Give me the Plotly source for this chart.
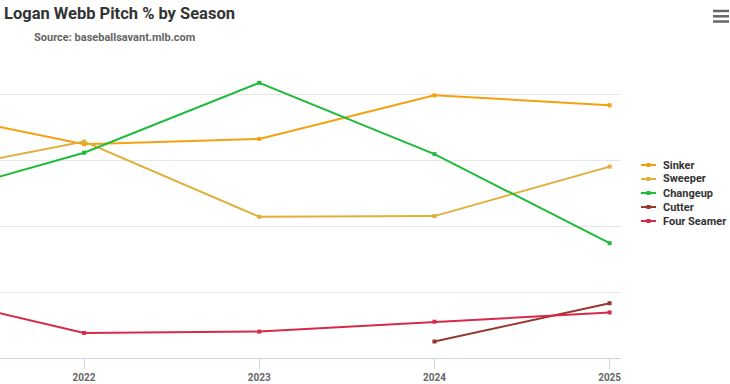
import plotly.graph_objects as go

seasons = [2021, 2022, 2023, 2024, 2025]
sinker = [37.8, 32.4, 33.2, 39.8, 38.3]
sweeper = [27.6, 32.8, 21.4, 21.5, 29.0]
changeup = [23.6, 31.1, 41.7, 30.9, 17.4]
cutter_seasons = [2024, 2025]
cutter = [2.5, 8.3]
four_seamer = [10.0, 3.8, 4.0, 5.5, 6.9]
tick_years = [2022, 2023, 2024, 2025]

series = [
    ("Sinker", seasons, sinker, "#f7a00f"),
    ("Sweeper", seasons, sweeper, "#e0b03c"),
    ("Changeup", seasons, changeup, "#20bb3a"),
    ("Cutter", cutter_seasons, cutter, "#953a2a"),
    ("Four Seamer", seasons, four_seamer, "#d62a48"),
]

FONT = "Roboto, sans-serif"
W, H = 730, 384
PL, PR, PT, PB = 0, 621, 50, 358  # plot area in pixels
PW, PH = PR - PL, PB - PT


def px(x):
    return (x - PL) / PW


def py(y):
    return (PB - y) / PH


fig = go.Figure()
for name, xs, ys, color in series:
    fig.add_trace(go.Scatter(
        x=xs, y=ys, name=name, mode="lines+markers",
        line=dict(color=color, width=2),
        marker=dict(color=color, size=4, symbol="square"),
        showlegend=False,
    ))

fig.update_layout(
    width=W, height=H,
    margin=dict(l=PL, r=W - PR, t=PT, b=H - PB, autoexpand=False),
    paper_bgcolor="white", plot_bgcolor="white",
    xaxis=dict(range=[2021.52, 2025.065], tickvals=tick_years, ticktext=[str(t) for t in tick_years],
               showgrid=False, showline=True, linecolor="#ccd6eb", linewidth=1,
               ticks="outside", ticklen=10, tickcolor="#ccd6eb",
               tickfont=dict(family=FONT, size=10, color="#666666", weight="bold"), zeroline=False),
    yaxis=dict(range=[0, 46.67], dtick=10, showgrid=True, gridcolor="#e6e6e6",
               showticklabels=False, zeroline=False, fixedrange=True),
    showlegend=False,
)

# title and subtitle
fig.add_annotation(text="<b>Logan Webb Pitch % by Season</b>", xref="paper", yref="paper",
                   x=px(2), y=py(13), xanchor="left", yanchor="middle", showarrow=False,
                   font=dict(family=FONT, size=16.5, color="#333333"))
fig.add_annotation(text="<b>Source: baseballsavant.mlb.com</b>", xref="paper", yref="paper",
                   x=px(114), y=py(37), xanchor="center", yanchor="middle", showarrow=False,
                   font=dict(family=FONT, size=11, color="#666666"))

# custom legend
for i, (name, xs, ys, color) in enumerate(series):
    yy = 165 + 14 * i
    fig.add_shape(type="line", xref="paper", yref="paper",
                  x0=px(641), x1=px(656), y0=py(yy), y1=py(yy),
                  line=dict(color=color, width=2))
    fig.add_shape(type="rect", xref="paper", yref="paper",
                  x0=px(646.5), x1=px(650.5), y0=py(yy - 2), y1=py(yy + 2),
                  line=dict(width=0), fillcolor=color)
    fig.add_annotation(text="<b>" + name + "</b>", xref="paper", yref="paper",
                       x=px(661), y=py(yy), xanchor="left", yanchor="middle", showarrow=False,
                       font=dict(family=FONT, size=11, color="#333333"))

# menu icon
for yy in (11, 16.3, 21.5):
    fig.add_shape(type="line", xref="paper", yref="paper",
                  x0=px(713), x1=px(729), y0=py(yy), y1=py(yy),
                  line=dict(color="#666666", width=2.5))

fig.write_html("out.html", config={"displayModeBar": False},
               post_script="document.body.style.margin='0';document.body.style.overflow='hidden';")
